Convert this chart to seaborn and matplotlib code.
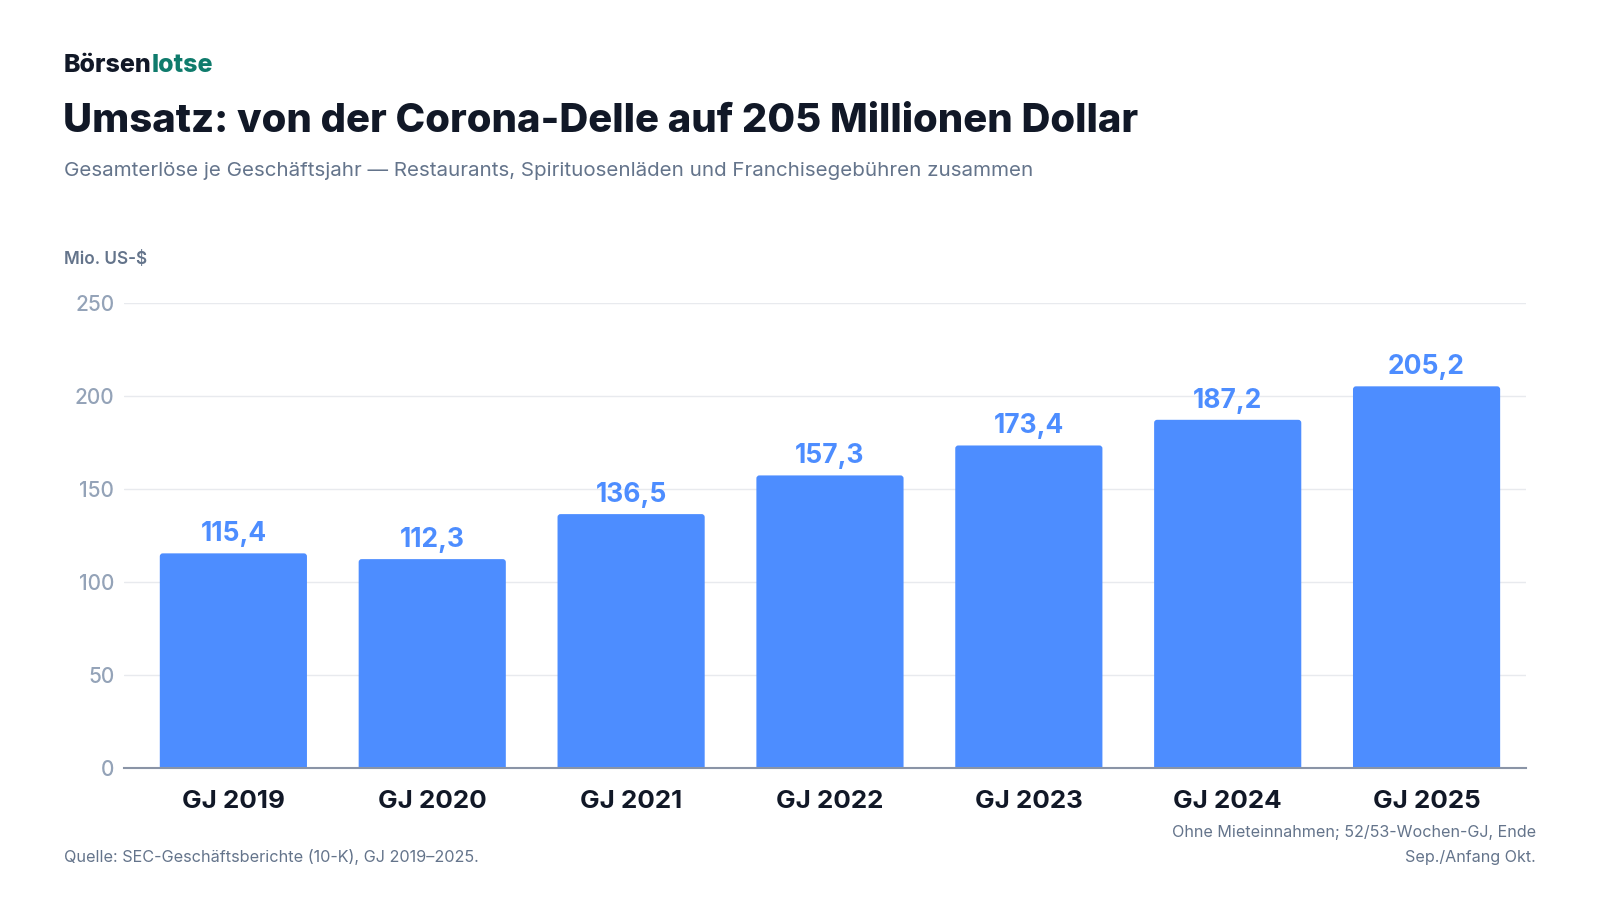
import matplotlib
matplotlib.use("Agg")
import matplotlib.pyplot as plt
from matplotlib.patches import FancyBboxPatch
import seaborn as sns
import pandas as pd

# Data
years = ["GJ 2019", "GJ 2020", "GJ 2021", "GJ 2022", "GJ 2023", "GJ 2024", "GJ 2025"]
revenue = [115.4, 112.3, 136.5, 157.3, 173.4, 187.2, 205.2]
y_ticks = [0, 50, 100, 150, 200, 250]

BLUE = "#4D8DFF"
DARK = "#111827"
GREY = "#64748B"
TICK = "#94A3B8"
GREEN = "#0F7B6C"

W, H = 1600, 900

sns.set_theme(style="white")
plt.rcParams["font.family"] = ["Inter", "DejaVu Sans"]

df = pd.DataFrame({"year": years, "revenue": revenue})

fig = plt.figure(figsize=(16, 9), dpi=100)
ax = fig.add_axes([124 / W, 1 - 768 / H, (1526 - 124) / W, (768 - 303) / H])

sns.barplot(data=df, x="year", y="revenue", color=BLUE, width=0.74,
            saturation=1, ax=ax, zorder=3)

ax.set_xlim(-0.55, 6.5)
ax.set_ylim(0, 250)

# swap the plain bars for ones with slightly rounded tops
px_x = (1526 - 124) / (6.5 + 0.55)
px_y = (768 - 303) / 250
r = 3 / px_x
for p in list(ax.patches):
    x0, y0, w, h = p.get_x(), p.get_y(), p.get_width(), p.get_height()
    p.set_visible(False)
    ax.add_patch(FancyBboxPatch((x0, y0 - 4), w, h + 4,
                                boxstyle=f"round,pad=0,rounding_size={r}",
                                mutation_aspect=px_x / px_y,
                                facecolor=BLUE, edgecolor="none", zorder=3))

ax.set_yticks(y_ticks)
ax.set_yticklabels([str(t) for t in y_ticks], color=TICK, fontsize=15, fontweight="medium")
ax.tick_params(axis="y", length=0, pad=7)
ax.tick_params(axis="x", length=0, pad=16)
for lbl in ax.get_xticklabels():
    lbl.set_fontsize(18.7)
    lbl.set_fontweight("bold")
    lbl.set_color(DARK)
ax.set_xlabel("")
ax.set_ylabel("")
ax.grid(axis="y", color="#E8EAEE", linewidth=1, zorder=0)
for side in ["top", "right", "left"]:
    ax.spines[side].set_visible(False)
ax.spines["bottom"].set_color("#8A94A6")
ax.spines["bottom"].set_linewidth(1.5)
ax.spines["bottom"].set_zorder(4)

# value labels
for i, v in enumerate(revenue):
    ax.annotate(f"{v:.1f}".replace(".", ","), xy=(i, v), xytext=(0, 4.5),
                textcoords="offset points", ha="center", va="bottom",
                fontsize=19, fontweight="bold", color=BLUE)

# header: logo
logo1 = fig.text(64 / W, 1 - 65 / H, "Börsen", fontsize=18, fontweight="heavy",
                 color=DARK, va="center", ha="left")
fig.canvas.draw()
bb = logo1.get_window_extent(renderer=fig.canvas.get_renderer())
fig.text(bb.x1 / W, 1 - 65 / H, "lotse", fontsize=18, fontweight="heavy",
         color=GREEN, va="center", ha="left")

fig.text(63 / W, 1 - 121 / H, "Umsatz: von der Corona-Delle auf 205 Millionen Dollar",
         fontsize=28.8, fontweight="heavy", color=DARK, va="center", ha="left")
fig.text(64 / W, 1 - 171 / H,
         "Gesamterlöse je Geschäftsjahr — Restaurants, Spirituosenläden und Franchisegebühren zusammen",
         fontsize=14.8, color=GREY, va="center", ha="left")
fig.text(64 / W, 1 - 260 / H, "Mio. US-$", fontsize=12.3, fontweight="semibold",
         color=GREY, va="center", ha="left")

# footer
fig.text(64 / W, 1 - 857 / H, "Quelle: SEC-Geschäftsberichte (10-K), GJ 2019–2025.",
         fontsize=11.7, color=GREY, va="center", ha="left")
fig.text(1536 / W, 1 - 845 / H,
         "Ohne Mieteinnahmen; 52/53-Wochen-GJ, Ende\nSep./Anfang Okt.",
         fontsize=11.6, color=GREY, va="center", ha="right", linespacing=1.8,
         multialignment="right")

fig.savefig("out.png", dpi=100, facecolor="white")
plt.close(fig)
